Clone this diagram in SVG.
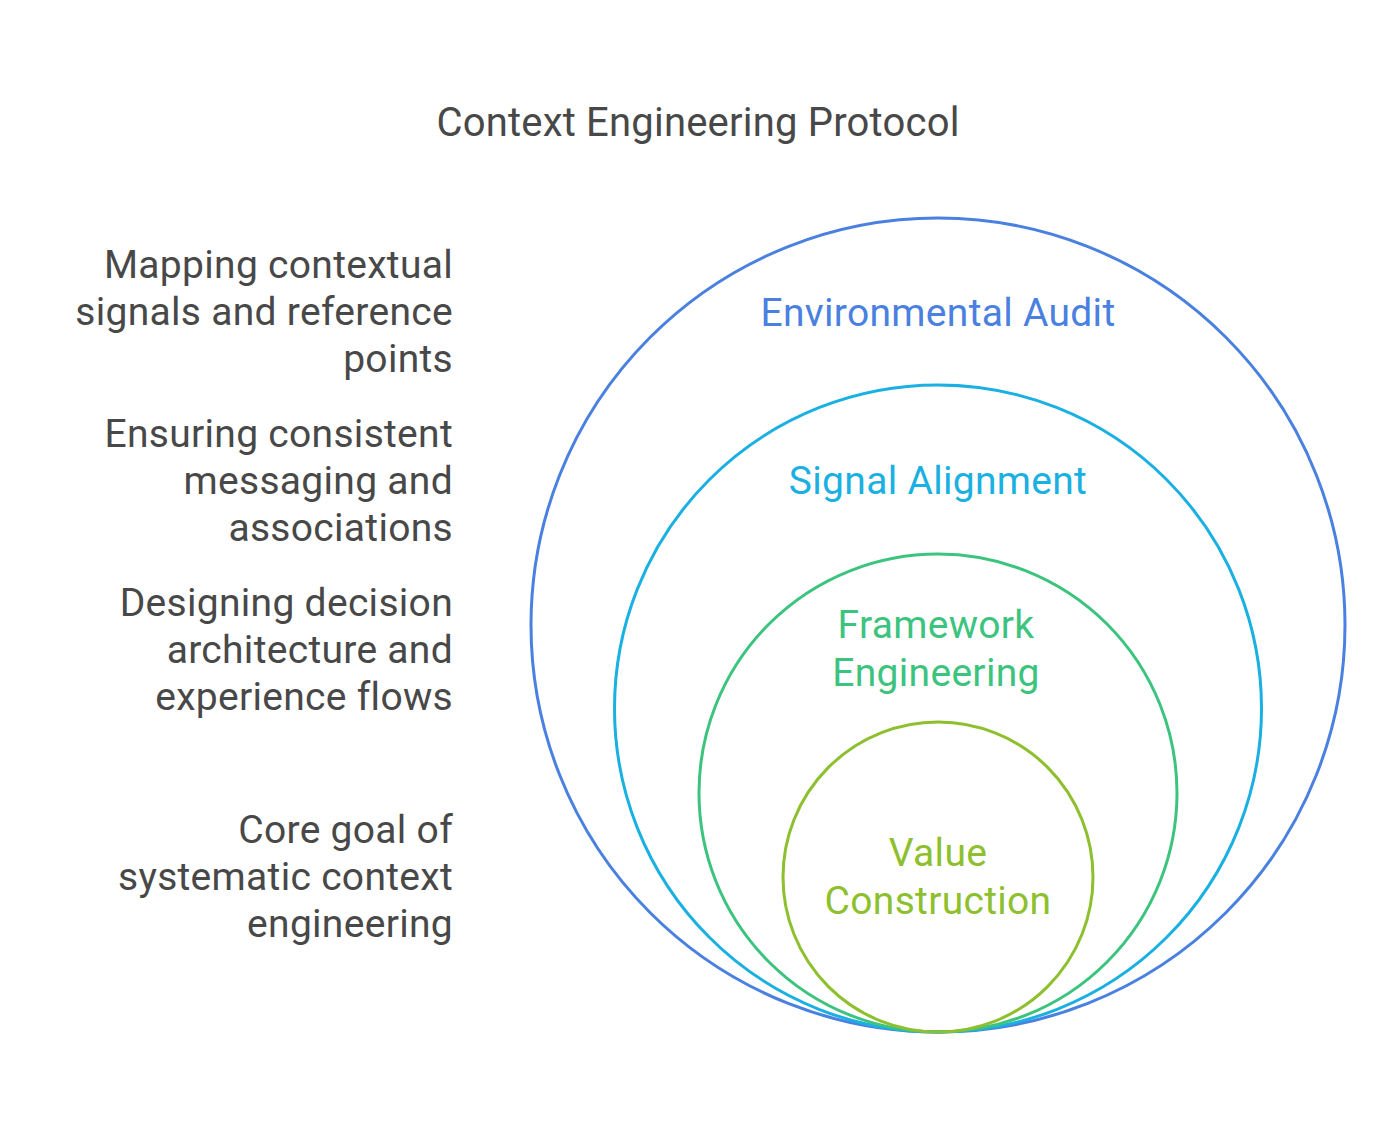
<svg xmlns="http://www.w3.org/2000/svg" width="1396" height="1133" viewBox="0 0 1396 1133">
  <style>
    text { font-family: Roboto, "Liberation Sans", sans-serif; }
    .title { font-size: 40px; fill: #484848; text-anchor: middle; letter-spacing: 0.2px; }
    .desc { font-size: 39px; fill: #484848; text-anchor: end; letter-spacing: 0.3px; }
    .lbl { font-size: 39px; text-anchor: middle; letter-spacing: 0.3px; }
    .ring { fill: none; stroke-width: 3; }
  </style>
  <rect width="1396" height="1133" fill="#ffffff"/>
  <text class="title" x="698" y="136">Context Engineering Protocol</text>

  <g id="ring-environmental-audit">
    <circle class="ring" cx="938" cy="625" r="407" stroke="#4A80E0"/>
    <text class="lbl" x="938" y="326" fill="#4A80E0">Environmental Audit</text>
  </g>
  <g id="ring-signal-alignment">
    <circle class="ring" cx="938" cy="708.5" r="323.5" stroke="#1AB0E2"/>
    <text class="lbl" x="938" y="494" fill="#1AB0E2">Signal Alignment</text>
  </g>
  <g id="ring-framework-engineering">
    <circle class="ring" cx="938" cy="793" r="239" stroke="#3CC47E"/>
    <text class="lbl" x="936" y="638" fill="#3CC47E">Framework</text>
    <text class="lbl" x="936" y="686" fill="#3CC47E">Engineering</text>
  </g>
  <g id="ring-value-construction">
    <circle class="ring" cx="938" cy="877" r="155" stroke="#8DBF2E"/>
    <text class="lbl" x="938" y="866" fill="#8DBF2E">Value</text>
    <text class="lbl" x="938" y="914" fill="#8DBF2E">Construction</text>
  </g>

  <g id="desc-environmental-audit">
    <text class="desc" x="453" y="278">Mapping contextual</text>
    <text class="desc" x="453" y="325">signals and reference</text>
    <text class="desc" x="453" y="372">points</text>
  </g>
  <g id="desc-signal-alignment">
    <text class="desc" x="453" y="447">Ensuring consistent</text>
    <text class="desc" x="453" y="494">messaging and</text>
    <text class="desc" x="453" y="541">associations</text>
  </g>
  <g id="desc-framework-engineering">
    <text class="desc" x="453" y="616">Designing decision</text>
    <text class="desc" x="453" y="663">architecture and</text>
    <text class="desc" x="453" y="710">experience flows</text>
  </g>
  <g id="desc-value-construction">
    <text class="desc" x="453" y="843">Core goal of</text>
    <text class="desc" x="453" y="890">systematic context</text>
    <text class="desc" x="453" y="937">engineering</text>
  </g>
  <g id="connectors"></g>
</svg>
